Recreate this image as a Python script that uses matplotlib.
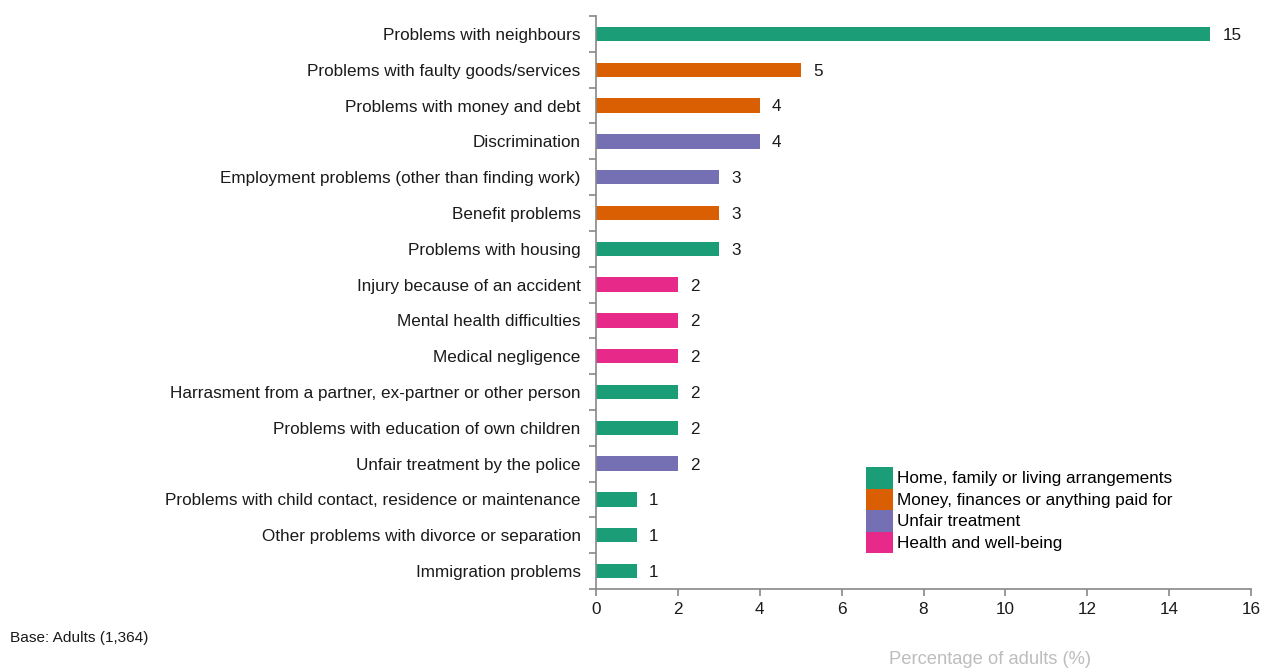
import matplotlib.pyplot as plt
from matplotlib.patches import Patch
import numpy as np

plt.rcParams['font.family'] = ['Liberation Sans', 'DejaVu Sans']

categories = [
    "Problems with neighbours",
    "Problems with faulty goods/services",
    "Problems with money and debt",
    "Discrimination",
    "Employment problems (other than finding work)",
    "Benefit problems",
    "Problems with housing",
    "Injury because of an accident",
    "Mental health difficulties",
    "Medical negligence",
    "Harrasment from a partner, ex-partner or other person",
    "Problems with education of own children",
    "Unfair treatment by the police",
    "Problems with child contact, residence or maintenance",
    "Other problems with divorce or separation",
    "Immigration problems",
]
values = [15, 5, 4, 4, 3, 3, 3, 2, 2, 2, 2, 2, 2, 1, 1, 1]
groups = ["home", "money", "money", "unfair", "unfair", "money", "home",
          "health", "health", "health", "home", "home", "unfair",
          "home", "home", "home"]
group_labels = {
    "home": "Home, family or living arrangements",
    "money": "Money, finances or anything paid for",
    "unfair": "Unfair treatment",
    "health": "Health and well-being",
}
group_colors = {
    "home": "#1b9e77",
    "money": "#d95f02",
    "unfair": "#7570b3",
    "health": "#e7298a",
}
x_ticks = [0, 2, 4, 6, 8, 10, 12, 14, 16]

FS = 12.3
fig = plt.figure(figsize=(12.65, 6.68), dpi=100)
ax = fig.add_axes([596 / 1265, 1 - 589 / 668, (1251 - 596) / 1265, (589 - 16) / 668])

n = len(categories)
y = np.arange(n)
colors = [group_colors[g] for g in groups]
ax.barh(y, values, height=0.4, color=colors)
for yi, v in zip(y, values):
    ax.text(v + 0.3, yi + 0.04, str(v), va='center', ha='left', fontsize=FS, color='#1a1a1a')

ax.set_ylim(n - 0.5, -0.5)
ax.set_xlim(0, 16)
ax.set_yticks(y)
ax.set_yticklabels(categories, fontsize=FS, color='#1a1a1a')
ax.tick_params(axis='y', which='major', length=0, pad=11)
ax.set_yticks(np.arange(-0.5, n + 0.5, 1), minor=True)
ax.tick_params(axis='y', which='minor', length=5, color='#888888', width=1.2)

ax.set_xticks(x_ticks)
ax.set_xticklabels([str(t) for t in x_ticks], fontsize=FS, color='#1a1a1a')
ax.tick_params(axis='x', length=5, color='#888888', width=1.2, pad=4)

for s in ['top', 'right']:
    ax.spines[s].set_visible(False)
for s in ['left', 'bottom']:
    ax.spines[s].set_color('#888888')
    ax.spines[s].set_linewidth(1.2)

handles = [Patch(facecolor=group_colors[k], edgecolor='none', label=group_labels[k])
           for k in ["home", "money", "unfair", "health"]]
fig.legend(handles=handles, loc='upper left', bbox_to_anchor=(866 / 1265, 1 - 467 / 668),
           frameon=False, fontsize=FS, handlelength=1.58, handleheight=1.56,
           labelspacing=0.0, handletextpad=0.25, borderaxespad=0, borderpad=0)

fig.text(990 / 1265, 1 - 659 / 668, "Percentage of adults (%)", ha='center', va='center',
         fontsize=13.2, color='#bdbdbd')
fig.text(10 / 1265, 1 - 638 / 668, "Base: Adults (1,364)", ha='left', va='center',
         fontsize=11.1, color='#1a1a1a')

fig.savefig('out.png', dpi=100)
